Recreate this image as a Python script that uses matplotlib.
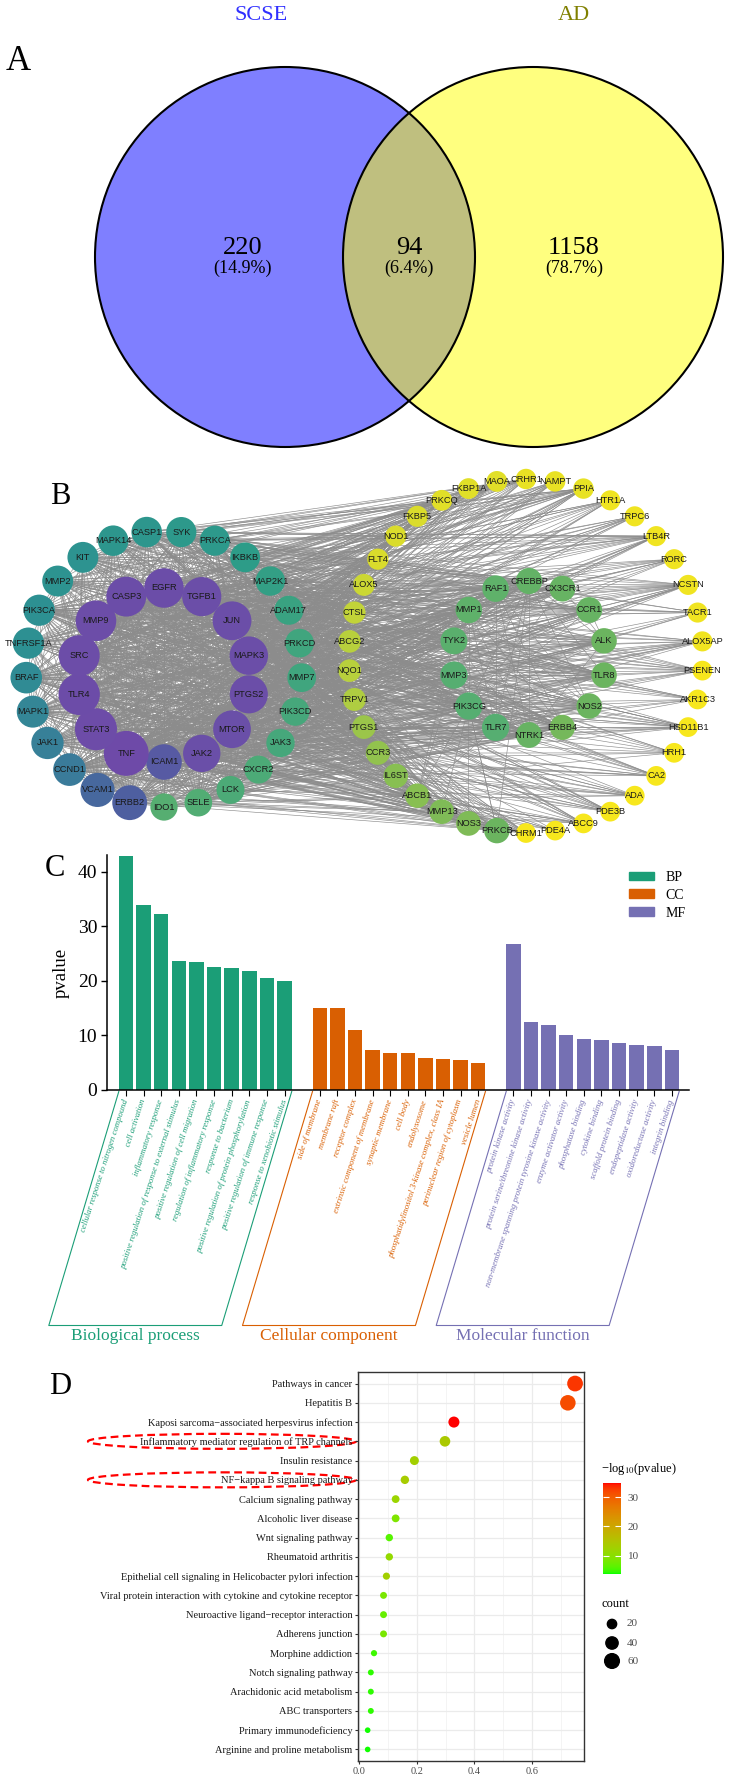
import numpy as np
import matplotlib
matplotlib.use("Agg")
import matplotlib.pyplot as plt
from matplotlib.patches import Circle, Ellipse, Patch
from matplotlib.collections import LineCollection
from matplotlib.colors import ListedColormap, Normalize
from matplotlib.cm import ScalarMappable

plt.rcParams['font.family'] = ['Liberation Serif', 'DejaVu Serif']
plt.rcParams['mathtext.fontset'] = 'stix'

# ---------------- A: Venn
venn_names = ['SCSE', 'AD']
venn_counts = [220, 94, 1158]
venn_pcts = ['(14.9%)', '(6.4%)', '(78.7%)']

# ---------------- B: PPI network (rings listed clockwise from the top) + node degree
inner_ring = ['EGFR', 'TGFB1', 'JUN', 'MAPK3', 'PTGS2', 'MTOR', 'JAK2', 'ICAM1',
              'TNF', 'STAT3', 'TLR4', 'SRC', 'MMP9', 'CASP3']
inner_deg = [57, 56, 55, 54, 53, 52, 51, 46, 72, 64, 62, 61, 60, 58]

teal_ring = ['CASP1', 'SYK', 'PRKCA', 'IKBKB', 'MAP2K1', 'ADAM17', 'PRKCD', 'MMP7',
             'PIK3CD', 'JAK3', 'CXCR2', 'LCK', 'SELE', 'IDO1', 'ERBB2', 'VCAM1',
             'CCND1', 'JAK1', 'MAPK1', 'BRAF', 'TNFRSF1A', 'PIK3CA', 'MMP2', 'KIT', 'MAPK14']
teal_deg = [32, 31, 31, 30, 29, 28, 27, 27, 26, 26, 25, 25, 24, 23, 44, 42,
            38, 37, 36, 35, 34, 34, 33, 33, 32]

green_ring = ['CREBBP', 'CX3CR1', 'CCR1', 'ALK', 'TLR8', 'NOS2', 'ERBB4', 'NTRK1',
              'TLR7', 'PIK3CG', 'MMP3', 'TYK2', 'MMP1', 'RAF1']
green_deg = [20, 19, 19, 18, 18, 18, 17, 19, 23, 23, 23, 22, 21, 21]

big_ring = ['CRHR1', 'NAMPT', 'PPIA', 'HTR1A', 'TRPC6', 'LTB4R', 'RORC', 'NCSTN',
            'TACR1', 'ALOX5AP', 'PSENEN', 'AKR1C3', 'HSD11B1', 'HRH1', 'CA2', 'ADA',
            'PDE3B', 'ABCC9', 'PDE4A', 'CHRM1', 'PRKCB', 'NOS3', 'MMP13', 'ABCB1',
            'IL6ST', 'CCR3', 'PTGS1', 'TRPV1', 'NQO1', 'ABCG2', 'CTSL', 'ALOX5',
            'FLT4', 'NOD1', 'FKBP5', 'PRKCQ', 'FKBP1A', 'MAOA']
big_deg = [4, 4, 4, 3, 3, 3, 3, 3, 3, 3, 2, 2, 2, 2, 2, 2, 2, 2, 2, 2,
           18, 16, 16, 15, 15, 14, 13, 11, 10, 10, 9, 8, 6, 6, 6, 5, 5, 5]

# ---------------- C: GO enrichment
bp_terms = ['cellular response to nitrogen compound', 'cell activation', 'inflammatory response',
            'positive regulation of response to external stimulus',
            'positive regulation of cell migration', 'regulation of inflammatory response',
            'response to bacterium', 'positive regulation of protein phosphorylation',
            'positive regulation of immune response', 'response to xenobiotic stimulus']
bp_vals = [43.0, 34.0, 32.2, 23.6, 23.4, 22.6, 22.4, 21.8, 20.6, 19.9]
cc_terms = ['side of membrane', 'membrane raft', 'receptor complex',
            'extrinsic component of membrane', 'synaptic membrane', 'cell body',
            'endolysosome', 'phosphatidylinositol 3-kinase complex, class IA',
            'perinuclear region of cytoplasm', 'vesicle lumen']
cc_vals = [15.0, 15.0, 11.0, 7.3, 6.8, 6.7, 5.8, 5.6, 5.5, 5.0]
mf_terms = ['protein kinase activity', 'protein serine/threonine kinase activity',
            'non-membrane spanning protein tyrosine kinase activity', 'enzyme activator activity',
            'phosphatase binding', 'cytokine binding', 'scaffold protein binding',
            'endopeptidase activity', 'oxidoreductase activity', 'integrin binding']
mf_vals = [26.8, 12.4, 11.9, 10.0, 9.4, 9.1, 8.6, 8.3, 8.0, 7.4]

# ---------------- D: KEGG enrichment (top to bottom)
kegg_terms = ['Pathways in cancer', 'Hepatitis B',
              'Kaposi sarcoma\u2212associated herpesvirus infection',
              'Inflammatory mediator regulation of TRP channels', 'Insulin resistance',
              'NF\u2212kappa B signaling pathway', 'Calcium signaling pathway',
              'Alcoholic liver disease', 'Wnt signaling pathway', 'Rheumatoid arthritis',
              'Epithelial cell signaling in Helicobacter pylori infection',
              'Viral protein interaction with cytokine and cytokine receptor',
              'Neuroactive ligand\u2212receptor interaction', 'Adherens junction',
              'Morphine addiction', 'Notch signaling pathway', 'Arachidonic acid metabolism',
              'ABC transporters', 'Primary immunodeficiency', 'Arginine and proline metabolism']
kegg_ratio = [0.749, 0.724, 0.329, 0.298, 0.192, 0.159, 0.127, 0.127, 0.105, 0.105,
              0.095, 0.085, 0.085, 0.085, 0.052, 0.041, 0.041, 0.041, 0.030, 0.030]
kegg_count = [70, 68, 31, 28, 18, 15, 12, 12, 10, 10, 9, 8, 8, 8, 5, 4, 4, 4, 3, 3]
kegg_logp = [33.0, 31.5, 34.8, 14.0, 13.0, 13.5, 12.0, 9.0, 6.0, 11.0,
             13.0, 8.5, 7.0, 8.5, 5.0, 4.5, 4.5, 4.5, 4.0, 4.0]
highlight = ['Inflammatory mediator regulation of TRP channels', 'NF\u2212kappa B signaling pathway']

W, H = 730, 1780
fig = plt.figure(figsize=(W / 100, H / 100), dpi=100)
canvas = fig.add_axes([0, 0, 1, 1])
canvas.set_xlim(0, W)
canvas.set_ylim(H, 0)
canvas.axis('off')


def box(x0, y0, x1, y1):
    return [x0 / W, 1 - y1 / H, (x1 - x0) / W, (y1 - y0) / H]


# ================= A
rv = 190
centers = [(285, 257), (533, 257)]
for (cx, cy), col in zip(centers, ['blue', 'yellow']):
    canvas.add_patch(Circle((cx, cy), rv, fc=col, alpha=0.5, ec='none'))
for cx, cy in centers:
    canvas.add_patch(Circle((cx, cy), rv, fc='none', ec='black', lw=1.5))
canvas.text(261, 16, venn_names[0], color='#3030ff', fontsize=16, ha='center', va='center')
canvas.text(574, 16, venn_names[1], color='#808000', fontsize=16, ha='center', va='center')
for x, n, p in zip([243, 409, 574], venn_counts, venn_pcts):
    canvas.text(x, 248, str(n), fontsize=19, ha='center', va='center')
    canvas.text(x, 268, p, fontsize=13, ha='center', va='center')
canvas.text(18, 62, 'A', fontsize=25, ha='center', va='center')

# ================= B
rings = [(inner_ring, inner_deg, (164, 675), 87, -90),
         (teal_ring, teal_deg, (164, 669), 138, -97.2),
         (green_ring, green_deg, (529, 658), 77, -90),
         (big_ring, big_deg, (526, 656), 177, -90)]
names, degs, xs, ys = [], [], [], []
for nm, dg, (cx, cy), rad, a0 in rings:
    ang = np.deg2rad(a0 + 360 * np.arange(len(nm)) / len(nm))
    xs += list(cx + rad * np.cos(ang))
    ys += list(cy + rad * np.sin(ang))
    names += nm
    degs += dg
degs = np.array(degs)
xs, ys = np.array(xs), np.array(ys)

order = np.argsort(-degs, kind='stable')
edges = set()
for i, d in enumerate(degs):
    cand = [j for j in order if j != i]
    picks = np.round(np.linspace(0, min(len(cand) - 1, 2.5 * d), d)).astype(int)
    for p in picks:
        edges.add(tuple(sorted((i, cand[p]))))
segs = [[(xs[a], ys[a]), (xs[b], ys[b])] for a, b in edges]
canvas.add_collection(LineCollection(segs, colors='#8c8c8c', linewidths=0.45, zorder=1))

anc_deg = [2, 8, 14, 18, 24, 30, 34, 38, 44, 50, 72]
anc_col = ['#f7e71d', '#cbd733', '#92c24e', '#6bb45f', '#52ad74', '#2d9c88',
           '#2d9092', '#3a7b9a', '#4e5fa0', '#6a4fa8', '#6e4aa8']
anc_rgb = np.array([matplotlib.colors.to_rgb(c) for c in anc_col])
for x, y, d, nm in zip(xs, ys, degs, names):
    col = [np.interp(d, anc_deg, anc_rgb[:, k]) for k in range(3)]
    canvas.add_patch(Circle((x, y), 9.5 + 0.18 * d, fc=col, ec='none', zorder=2))
    canvas.text(x, y, nm, fontsize=6.7, family='Liberation Sans', color='#1a1a1a',
                ha='center', va='center', zorder=3)
canvas.text(60, 497, 'B', fontsize=22, ha='center', va='center')

# ================= C
ax_c = fig.add_axes(box(107, 855, 689, 1090))
groups = [(bp_terms, bp_vals, '#1b9e77', 'BP', 'Biological process'),
          (cc_terms, cc_vals, '#d95f02', 'CC', 'Cellular component'),
          (mf_terms, mf_vals, '#7570b3', 'MF', 'Molecular function')]
xmin, xmax, ymax = -1.08, 31.97, 43.1
ax_c.set_xlim(xmin, xmax)
ax_c.set_ylim(0, ymax)
ppx = 582 / (xmax - xmin)
ppy = 235 / ymax
pos = 0
all_x, all_lab, all_col, handles = [], [], [], []
for terms, vals, col, key, title in groups:
    x = np.arange(pos, pos + len(vals))
    ax_c.bar(x, vals, width=0.82, color=col, zorder=2)
    all_x += list(x)
    all_lab += terms
    all_col += [col] * len(terms)
    handles.append(Patch(color=col, label=key))
    xl, xr = x[0] - 0.41, x[-1] + 0.41
    ytop = -1.5 / ppy
    dy, dx = 234 / ppy, 70 / ppx
    ax_c.plot([xl, xl - dx, xr - dx, xr], [ytop, ytop - dy, ytop - dy, ytop],
              color=col, lw=0.8, clip_on=False)
    ax_c.text((xl + xr) / 2 - dx, ytop - dy - 2 / ppy, title, color=col, fontsize=12.5,
              ha='center', va='top')
    pos += len(vals) + 1
ax_c.set_xticks(all_x)
ax_c.set_xticklabels(all_lab, rotation=72, ha='right', va='center', rotation_mode='anchor',
                     fontsize=6.3, fontstyle='italic')
for t, c in zip(ax_c.get_xticklabels(), all_col):
    t.set_color(c)
ax_c.set_yticks([0, 10, 20, 30, 40])
ax_c.tick_params(axis='y', labelsize=14, length=4, width=1, pad=3)
ax_c.tick_params(axis='x', length=4, width=0.8, pad=3)
ax_c.set_ylabel('pvalue', fontsize=13.5, labelpad=6)
for s in ['top', 'right']:
    ax_c.spines[s].set_visible(False)
for s in ['left', 'bottom']:
    ax_c.spines[s].set_linewidth(1.1)
ax_c.legend(handles=handles, loc='upper left', bbox_to_anchor=(622 / W, 1 - 864 / H),
            bbox_transform=fig.transFigure, frameon=False, fontsize=10, borderpad=0,
            handlelength=1.8, handleheight=0.6, labelspacing=0.35, handletextpad=0.8)
canvas.text(55, 868, 'C', fontsize=22, ha='center', va='center')

# ================= D
def lab2rgb(lab):
    L, a, b = lab
    fy = (L + 16) / 116
    fx, fz = fy + a / 500, fy - b / 200
    f = np.array([fx, fy, fz])
    xyz = np.where(f > 0.2069, f ** 3, (f - 16 / 116) / 7.787) * np.array([0.95047, 1.0, 1.08883])
    M = np.array([[3.2406, -1.5372, -0.4986], [-0.9689, 1.8758, 0.0415], [0.0557, -0.2040, 1.0570]])
    lin = M @ xyz
    rgb = np.where(lin <= 0.0031308, 12.92 * lin, 1.055 * np.clip(lin, 0, None) ** (1 / 2.4) - 0.055)
    return np.clip(rgb, 0, 1)


lab_green = np.array([87.73, -86.18, 83.18])
lab_red = np.array([53.24, 80.09, 67.20])
pcmap = ListedColormap([lab2rgb(lab_green + t * (lab_red - lab_green)) for t in np.linspace(0, 1, 256)])
pnorm = Normalize(3.8, 34.8)

n = len(kegg_terms)
yrow = np.arange(n, 0, -1)
ax_d = fig.add_axes(box(358, 1372, 584, 1761))
ax_d.set_xlim(-0.0035, 0.78)
ax_d.set_ylim(0.4, n + 0.6)
ax_d.set_xticks([0.0, 0.2, 0.4, 0.6])
ax_d.set_xticks(np.arange(0.1, 0.8, 0.2), minor=True)
ax_d.set_yticks(yrow)
ax_d.set_yticklabels(kegg_terms)
ax_d.grid(True, which='major', color='#ebebeb', lw=0.9)
ax_d.grid(True, which='minor', axis='x', color='#f2f2f2', lw=0.6)
ax_d.set_axisbelow(True)
ax_d.tick_params(axis='y', labelsize=7.5, labelcolor='#1a1a1a', length=2.5, pad=1.5, color='#333333')
ax_d.tick_params(axis='x', labelsize=7.5, labelcolor='#4d4d4d', length=2.5, pad=1.5, color='#333333')
ax_d.tick_params(which='minor', length=0)
for s in ax_d.spines.values():
    s.set_color('#333333')
    s.set_linewidth(1)
size = lambda c: 0.5184 * (22 + 3.23 * np.asarray(c))
ax_d.scatter(kegg_ratio, yrow, s=size(kegg_count), c=kegg_logp, cmap=pcmap, norm=pnorm,
             edgecolors='none', zorder=3)

to_canvas = lambda p: canvas.transData.inverted().transform(ax_d.transData.transform(p))
for term in highlight:
    yy = yrow[kegg_terms.index(term)]
    _, ypx = to_canvas((0, yy))
    canvas.add_patch(Ellipse((222, ypx), 268, 15, fc='none', ec='red', lw=1.6,
                             ls=(0, (3.5, 2)), zorder=5))

cax = fig.add_axes(box(603, 1483, 621, 1574))
cb = fig.colorbar(ScalarMappable(norm=pnorm, cmap=pcmap), cax=cax, ticks=[10, 20, 30])
cb.outline.set_visible(False)
cax.tick_params(labelsize=8, labelcolor='#4d4d4d', color='white', direction='in', length=4,
                width=0.8, pad=5, right=True, left=True)
canvas.text(601, 1469, '\u2212log$_{10}$(pvalue)', fontsize=9, ha='left', va='center')
canvas.text(601, 1604, 'count', fontsize=9, ha='left', va='center')
leg_counts = [20, 40, 60]
leg_y = [1624, 1643, 1661]
canvas.scatter([612] * 3, leg_y, s=size(leg_counts), color='black', zorder=5)
for c, y in zip(leg_counts, leg_y):
    canvas.text(627, y, str(c), fontsize=8, color='#4d4d4d', ha='left', va='center')
canvas.text(60, 1386, 'D', fontsize=22, ha='center', va='center')

fig.savefig('out.png', dpi=100)
